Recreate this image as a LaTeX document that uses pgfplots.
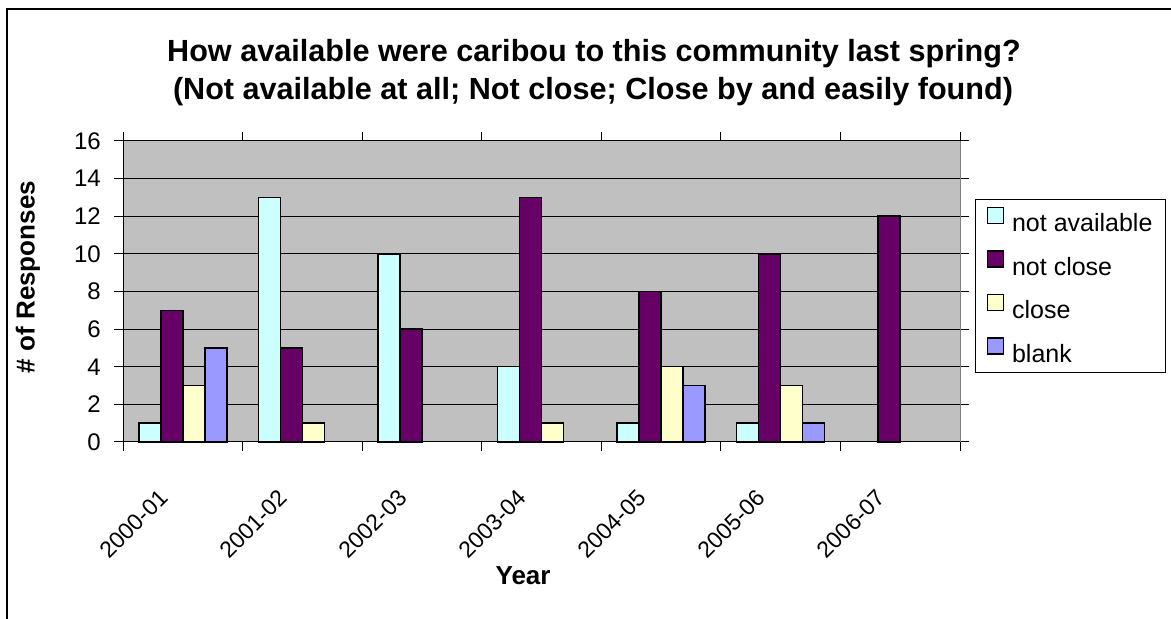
\documentclass[border=0pt]{standalone}
\usepackage{fontspec}
\setmainfont{Liberation Sans}
\usepackage{pgfplots}
\pgfplotsset{compat=1.18}
\definecolor{barCyan}{HTML}{CCFFFF}
\definecolor{barPurple}{HTML}{660066}
\definecolor{barYellow}{HTML}{FFFFCC}
\definecolor{barBlue}{HTML}{9999FF}
\definecolor{plotGray}{HTML}{C0C0C0}
\definecolor{frameGray}{HTML}{808080}
\begin{document}
\begin{tikzpicture}
\useasboundingbox (0,0) rectangle (1171bp,619bp);
% chart frame
\draw[line width=1.5bp] (7bp,0) -- (7bp,610bp) -- (1171bp,610bp);
% title
\node[font=\fontsize{30.6bp}{34bp}\bfseries\selectfont, anchor=base, inner sep=0pt] at (594bp,557bp)
  {How available were caribou to this community last spring?};
\node[font=\fontsize{30.6bp}{34bp}\bfseries\selectfont, anchor=base, inner sep=0pt] at (593bp,519bp)
  {(Not available at all; Not close; Close by and easily found)};
\begin{axis}[
  at={(123bp,177bp)}, anchor=south west,
  scale only axis, width=837bp, height=301bp,
  axis background/.style={fill=plotGray},
  axis line style={draw=black, line width=1bp},
  ybar=0pt, bar width=0.184,
  xmin=-0.5, xmax=6.5, ymin=0, ymax=16,
  ytick={0,2,...,16},
  ymajorgrids, grid style={draw=black, line width=1bp},
  xtick={-0.5,0.5,...,6.5}, xticklabels={},
  extra x ticks={0,1,2,3,4,5,6},
  extra x tick labels={2000-01,2001-02,2002-03,2003-04,2004-05,2005-06,2006-07},
  extra x tick style={major tick length=0pt, grid=none},
  tick align=outside, major tick length=9bp,
  tick style={draw=black, line width=1bp},
  /pgf/number format/assume math mode=true,
  yticklabel style={font=\fontsize{24bp}{28bp}\selectfont, inner sep=0pt, anchor=east, xshift=-13bp},
  xticklabel style={font=\fontsize{23bp}{27bp}\selectfont, inner sep=0pt, xshift=-25bp, yshift=-46bp, rotate=45, anchor=north east},
  ylabel={\# of Responses},
  ylabel style={font=\fontsize{26bp}{30bp}\bfseries\selectfont, at={(axis description cs:-0.1135,0.548)}, anchor=center, inner sep=0pt},
  xlabel={Year},
  xlabel style={font=\fontsize{26bp}{30bp}\bfseries\selectfont, at={(axis description cs:0.478,-0.472)}, anchor=base, inner sep=0pt},
  legend style={at={(1.018,0.807)}, anchor=north west, draw=black, line width=1bp, fill=white,
    font=\fontsize{25bp}{29bp}\selectfont, row sep=15bp, inner xsep=11bp, inner ysep=7bp,
    nodes={inner sep=2bp},
    /tikz/every odd column/.append style={column sep=6bp}},
  legend cell align=left,
  legend image code/.code={\draw[#1, draw=black, line width=1.5bp] (0bp,0bp) rectangle (16bp,16bp);},
  clip=false,
]
% not available
\addplot[fill=barCyan, draw=black, line width=1.5bp] coordinates {(0,1) (1,13) (2,10) (3,4) (4,1) (5,1)};
% not close
\addplot[fill=barPurple, draw=black, line width=1.5bp] coordinates {(0,7) (1,5) (2,6) (3,13) (4,8) (5,10) (6,12)};
% close
\addplot[fill=barYellow, draw=black, line width=1.5bp] coordinates {(0,3) (1,1) (3,1) (4,4) (5,3)};
% blank
\addplot[fill=barBlue, draw=black, line width=1.5bp] coordinates {(0,5) (4,3) (5,1)};
\legend{not available, not close, close, blank}
\draw[frameGray, line width=1bp] (rel axis cs:1,0) -- (rel axis cs:1,1);
\end{axis}
\end{tikzpicture}
\end{document}
